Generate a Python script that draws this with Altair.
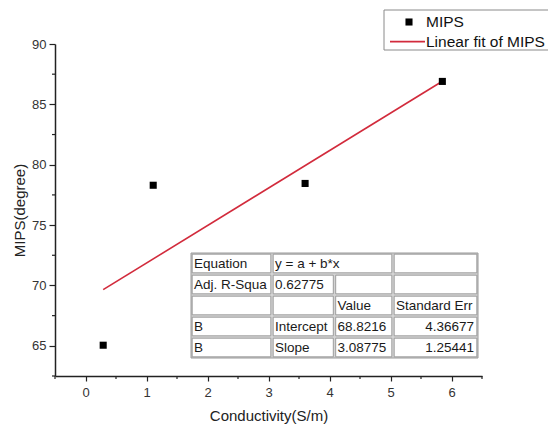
import altair as alt
import pandas as pd

# ---- data ----
conductivity = [0.29, 1.11, 3.6, 5.85]
mips = [65.05, 78.3, 78.45, 86.9]
series_names = ["MIPS", "Linear fit of MIPS"]
series_colors = ["#000000", "#d22b3c"]

x_major_ticks = [0, 1, 2, 3, 4, 5, 6]
x_minor_ticks = [-0.5, 0.5, 1.5, 2.5, 3.5, 4.5, 5.5, 6.5]
y_major_ticks = [65, 70, 75, 80, 85, 90]
y_minor_ticks = [62.5, 67.5, 72.5, 77.5, 82.5, 87.5]

# fit-result table (text as in the reference)
table_rows = [
    ["Equation", "y = a + b*x", ""],
    ["Adj. R-Squa", "0.62775", "", ""],
    ["", "", "Value", "Standard Err"],
    ["B", "Intercept", "68.8216", "4.36677"],
    ["B", "Slope", "3.08775", "1.25441"],
]
table_spans = [
    [1, 2, 1],
    [1, 1, 1, 1],
    [1, 1, 1, 1],
    [1, 1, 1, 1],
    [1, 1, 1, 1],
]
right_aligned_cells = [(3, 3), (4, 3)]

# ---- layout constants ----
FONT = "Liberation Sans"
W, H = 427, 332
col_widths = [81, 62.5, 58.5, 85]
row_h = 21
table_left, table_top = 136, 209  # inside the plot area
inset = 1.2
minor_len = 3

# table cells
col_edges = [0]
for w in col_widths:
    col_edges.append(col_edges[-1] + w)
cells = []
for r, (texts, spans) in enumerate(zip(table_rows, table_spans)):
    c = 0
    for t, s in zip(texts, spans):
        x0, x1 = col_edges[c], col_edges[c + s]
        right = (r, c) in right_aligned_cells
        cells.append(dict(x0=x0 + inset, x1=x1 - inset,
                          y0=r * row_h + inset, y1=(r + 1) * row_h - inset,
                          tx=(x1 - 4) if right else (x0 + 3),
                          ty=(r + 0.5) * row_h,
                          text=t, align="right" if right else "left"))
        c += s
cells_df = pd.DataFrame(cells)
tot_w = col_edges[-1]
tot_h = row_h * len(table_rows)
bg_df = pd.DataFrame([dict(x0=0, x1=tot_w, y0=0, y1=tot_h)])

tx_scale = alt.Scale(domain=[0, tot_w], range=[table_left, table_left + tot_w], nice=False, zero=False)
ty_scale = alt.Scale(domain=[0, tot_h], range=[table_top, table_top + tot_h], nice=False, zero=False)

# legend box layout (plot-area pixel frame)
leg_left, leg_top, leg_w, leg_h = 329, -34, 180, 40
leg_row_y = [12, 31.6]
leg_sym_x, leg_line_x0, leg_line_x1, leg_label_x = 25, 6, 41, 42
lx_scale = alt.Scale(domain=[0, leg_w], range=[leg_left, leg_left + leg_w], nice=False, zero=False)
ly_scale = alt.Scale(domain=[0, leg_h], range=[leg_top, leg_top + leg_h], nice=False, zero=False)
leg_box = pd.DataFrame([dict(x0=0, x1=leg_w, y0=0, y1=leg_h)])
leg_items = pd.DataFrame({"label": series_names, "y": leg_row_y, "color": series_colors,
                          "sx": [leg_sym_x, leg_line_x0], "sx2": [leg_sym_x, leg_line_x1],
                          "lx": [leg_label_x, leg_label_x]})

pts = pd.DataFrame({"x": conductivity, "y": mips})
xminor_df = pd.DataFrame({"x": x_minor_ticks})
yminor_df = pd.DataFrame({"y": y_minor_ticks})

axis_common = dict(grid=False, labelFontSize=13, labelFont=FONT, labelColor="#333",
                   titleFontSize=15, titleFont=FONT, titleFontWeight="normal", titleColor="#222",
                   domainColor="#222", domainWidth=1.5, tickColor="#222", tickWidth=1.2,
                   labelFlush=False, format="d")

x_scale = alt.Scale(domain=[-0.5, 6.5], nice=False, zero=False)
y_scale = alt.Scale(domain=[62.5, 90], nice=False, zero=False)

x_enc = alt.X("x:Q", title="Conductivity(S/m)", scale=x_scale,
              axis=alt.Axis(values=x_major_ticks, tickSize=5, labelPadding=5, titlePadding=9,
                            **axis_common))
y_enc = alt.Y("y:Q", title="MIPS(degree)", scale=y_scale,
              axis=alt.Axis(values=y_major_ticks, tickSize=6, labelPadding=3, titlePadding=4,
                            **axis_common))

points = alt.Chart(pts).mark_point(shape="square", filled=True, size=50, opacity=1,
                                   color=series_colors[0]).encode(x=x_enc, y=y_enc)

fit = alt.Chart(pts).transform_regression("x", "y").mark_line(
    strokeWidth=1.6, color=series_colors[1]).encode(x=alt.X("x:Q"), y=alt.Y("y:Q"))

xminor = alt.Chart(xminor_df).mark_rule(color="#222", strokeWidth=1.2).encode(
    x=alt.X("x:Q"), y=alt.value(H), y2=alt.value(H + minor_len))
yminor = alt.Chart(yminor_df).mark_rule(color="#222", strokeWidth=1.2).encode(
    y=alt.Y("y:Q"), x=alt.value(0), x2=alt.value(-minor_len))

main = alt.layer(fit, points, xminor, yminor)

# table
tbl_bg = alt.Chart(bg_df).mark_rect(fill="#d4d4d4", stroke="#9a9a9a", strokeWidth=1).encode(
    x=alt.X("x0:Q", scale=tx_scale, axis=None), x2="x1:Q",
    y=alt.Y("y0:Q", scale=ty_scale, axis=None), y2="y1:Q")
tbl_cells = alt.Chart(cells_df).mark_rect(fill="white", stroke="#8c8c8c", strokeWidth=0.8).encode(
    x=alt.X("x0:Q", scale=tx_scale, axis=None), x2="x1:Q",
    y=alt.Y("y0:Q", scale=ty_scale, axis=None), y2="y1:Q")
tbl_text_l = alt.Chart(cells_df).transform_filter("datum.align === 'left'").mark_text(
    align="left", baseline="middle", font=FONT, fontSize=13.5, color="#1a1a1a").encode(
    x=alt.X("tx:Q", scale=tx_scale, axis=None), y=alt.Y("ty:Q", scale=ty_scale, axis=None), text="text:N")
tbl_text_r = alt.Chart(cells_df).transform_filter("datum.align === 'right'").mark_text(
    align="right", baseline="middle", font=FONT, fontSize=13.5, color="#1a1a1a").encode(
    x=alt.X("tx:Q", scale=tx_scale, axis=None), y=alt.Y("ty:Q", scale=ty_scale, axis=None), text="text:N")
table = alt.layer(tbl_bg, tbl_cells, tbl_text_l, tbl_text_r)

# legend
lg_box = alt.Chart(leg_box).mark_rect(fill="white", stroke="#8a8a8a", strokeWidth=1).encode(
    x=alt.X("x0:Q", scale=lx_scale, axis=None), x2="x1:Q",
    y=alt.Y("y0:Q", scale=ly_scale, axis=None), y2="y1:Q")
lg_sym = alt.Chart(leg_items).transform_filter("datum.label === 'MIPS'").mark_point(
    shape="square", filled=True, size=50, opacity=1, color=series_colors[0]).encode(
    x=alt.X("sx:Q", scale=lx_scale, axis=None), y=alt.Y("y:Q", scale=ly_scale, axis=None))
lg_line = alt.Chart(leg_items).transform_filter("datum.label !== 'MIPS'").mark_rule(
    strokeWidth=1.6, color=series_colors[1]).encode(
    x=alt.X("sx:Q", scale=lx_scale, axis=None), x2="sx2:Q", y=alt.Y("y:Q", scale=ly_scale, axis=None))
lg_text = alt.Chart(leg_items).mark_text(align="left", baseline="middle", font=FONT,
                                         fontSize=15.5, color="#111").encode(
    x=alt.X("lx:Q", scale=lx_scale, axis=None), y=alt.Y("y:Q", scale=ly_scale, axis=None), text="label:N")
legend = alt.layer(lg_box, lg_line, lg_sym, lg_text)

chart = alt.layer(main, table, legend).resolve_scale(x="independent", y="independent").properties(
    width=W, height=H,
    autosize=alt.AutoSizeParams(type="none"),
    padding={"left": 55, "top": 44, "right": 66, "bottom": 49},
    background="white",
).configure_view(stroke=None)

chart.save("out.html", embed_options={"renderer": "svg", "actions": False})
